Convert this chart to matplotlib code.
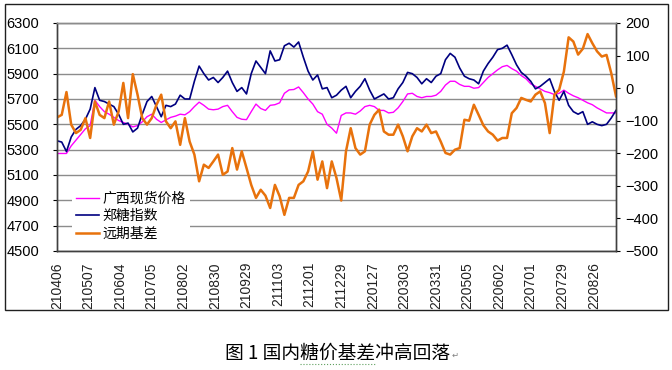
import numpy as np
import matplotlib
matplotlib.use('Agg')
import matplotlib.pyplot as plt
from matplotlib.patches import Rectangle

plt.rcParams['font.family'] = ['Liberation Sans', 'Noto Sans CJK SC', 'DejaVu Sans']

# trading-day labels, one every 20 days; values sampled every 3 trading days
tick_labels = ['210406', '210507', '210604', '210705', '210802', '210830',
               '210929', '211103', '211201', '211229', '220127', '220303',
               '220331', '220505', '220602', '220701', '220729', '220826']
tick_step = 20
sample_step = 3

# 广西现货价格 (left axis)
spot = [5270, 5270, 5270, 5330, 5375, 5420, 5465, 5490, 5690, 5640,
        5600, 5580, 5555, 5530, 5515, 5500, 5480, 5490, 5520, 5560,
        5580, 5540, 5515, 5535, 5555, 5565, 5580, 5575, 5600, 5640,
        5675, 5650, 5620, 5615, 5620, 5640, 5650, 5600, 5555, 5540,
        5537, 5600, 5660, 5625, 5610, 5650, 5655, 5670, 5745, 5772,
        5775, 5795, 5750, 5700, 5660, 5600, 5580, 5500, 5470, 5430,
        5570, 5590, 5590, 5580, 5605, 5640, 5650, 5640, 5610, 5610,
        5590, 5595, 5630, 5680, 5740, 5745, 5720, 5710, 5720, 5720,
        5730, 5760, 5810, 5840, 5840, 5815, 5800, 5800, 5785, 5790,
        5830, 5870, 5900, 5930, 5955, 5965, 5940, 5920, 5885, 5860,
        5820, 5800, 5780, 5760, 5750, 5735, 5745, 5770, 5745, 5725,
        5710, 5690, 5670, 5655, 5630, 5610, 5590, 5590, 5590]

# 郑糖指数 (left axis)
zz_index = [5370, 5360, 5285, 5400, 5460, 5490, 5540, 5620, 5790, 5690,
            5680, 5660, 5640, 5580, 5500, 5510, 5440, 5470, 5580, 5680,
            5720, 5640, 5560, 5650, 5640, 5660, 5730, 5700, 5700, 5840,
            5960, 5900, 5850, 5870, 5830, 5870, 5920, 5830, 5760, 5790,
            5740, 5900, 6000, 5950, 5900, 6080, 6000, 6010, 6120, 6140,
            6110, 6150, 6030, 5920, 5850, 5890, 5780, 5790, 5710, 5730,
            5770, 5800, 5710, 5760, 5800, 5860, 5770, 5700, 5720, 5740,
            5700, 5710, 5780, 5830, 5910, 5900, 5870, 5820, 5860, 5830,
            5880, 5900, 6010, 6060, 6030, 5945, 5880, 5860, 5850, 5820,
            5920, 5980, 6030, 6090, 6100, 6125, 6050, 5970, 5910, 5880,
            5840, 5780, 5800, 5830, 5860, 5760, 5690, 5760, 5650, 5600,
            5580, 5600, 5500, 5520, 5500, 5490, 5500, 5550, 5610]

# 远期基差 (right axis)
basis = [-90, -82, -12, -112, -138, -128, -92, -153, -41, -82,
         -92, -41, -112, -72, 16, -92, 43, -20, -92, -112,
         -92, -51, -20, -102, -123, -102, -174, -92, -164, -204,
         -286, -235, -245, -225, -204, -266, -256, -184, -250, -194,
         -245, -297, -337, -312, -330, -368, -297, -332, -389, -337,
         -337, -297, -286, -256, -194, -281, -225, -307, -225, -276,
         -345, -194, -123, -184, -204, -194, -112, -82, -66, -133,
         -143, -143, -112, -148, -194, -148, -123, -133, -112, -138,
         -133, -164, -199, -204, -189, -184, -97, -100, -51, -82,
         -114, -133, -143, -161, -153, -153, -77, -61, -30, -36,
         -41, -20, -10, -46, -138, -20, -5, 51, 156, 143,
         103, 121, 166, 138, 113, 97, 102, 46, -25]

x = np.arange(len(spot)) * sample_step

W, H = 672, 370
cjk = ['Noto Sans CJK SC', 'DejaVu Sans']
fig = plt.figure(figsize=(W/100, H/100), dpi=100)
fig.patch.set_facecolor('white')
ax = fig.add_axes([57/W, 1-251/H, 559/W, 228/H])
ax2 = ax.twinx()

l1, = ax.plot(x, spot, color='#ff00ff', lw=1.0, label='广西现货价格')
l2, = ax.plot(x, zz_index, color='#000080', lw=1.2, label='郑糖指数')
l3, = ax2.plot(x, basis, color='#e8720c', lw=1.8, label='远期基差')

ax.set_xlim(0, x[-1])
ax.set_ylim(4500, 6300)
ax.set_yticks(np.arange(4500, 6301, 200))
ax2.set_ylim(-500, 200)
ax2.set_yticks(np.arange(-500, 201, 100))
ax.set_xticks(np.arange(len(tick_labels)) * tick_step)
ax.set_xticklabels(tick_labels, rotation=90)

ax.grid(axis='y', color='#8c8c8c', lw=1.0)
ax.set_axisbelow(True)

for a in (ax, ax2):
    for s in a.spines.values():
        s.set_color('#404040')
        s.set_linewidth(1.0)
    a.spines['top'].set_color('#8c8c8c')
ax.tick_params(axis='y', length=3, pad=10, labelsize=10.5, colors='#000000')
ax.tick_params(axis='x', length=0, pad=8, labelsize=10, labelcolor='#222222')
ax2.tick_params(axis='y', length=3, pad=4, labelsize=10.5, colors='#000000')

leg = ax2.legend(handles=[l1, l2, l3], loc='upper left',
                 bbox_to_anchor=(0.027, 0.278), borderaxespad=0,
                 frameon=True, fancybox=False, edgecolor='none',
                 facecolor='white', framealpha=1.0,
                 prop={'family': cjk, 'size': 10},
                 handlelength=1.65, handletextpad=0.25, labelspacing=0.25,
                 borderpad=0.3)
leg.set_zorder(10)

# outer chart frame
fig.patches.append(Rectangle((5/W, 1-310/H), 663/W, 306/H, transform=fig.transFigure,
                             fill=False, edgecolor='#202020', lw=1.0))

# caption under the chart
cap = fig.text(225/W, 1-353/H, '图 1 国内糖价基差冲高回落', ha='left', va='center',
               fontsize=13.5, family=cjk, color='#000000')
fig.text(452/W, 1-355/H, '↵', ha='left', va='center', fontsize=6,
         family=['DejaVu Sans'], color='#808080')
fig.lines.append(plt.Line2D([300/W, 376/W], [1-364/H, 1-364/H], transform=fig.transFigure,
                            color='#5fa05f', lw=0.8, ls=':'))

fig.savefig('out.png', dpi=100, facecolor='white')
